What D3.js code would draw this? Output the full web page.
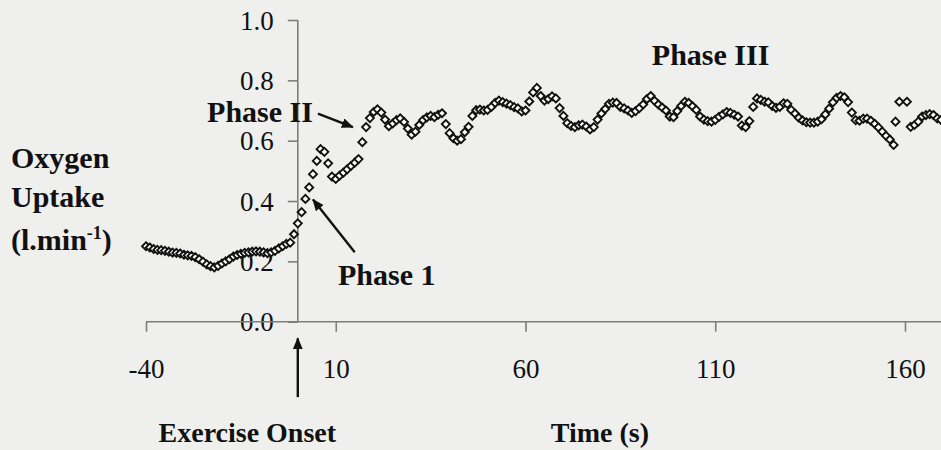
<!DOCTYPE html>
<html>
<head>
<meta charset="utf-8">
<script src="https://cdn.jsdelivr.net/npm/d3@7"></script>
<style>
  html, body { margin: 0; padding: 0; background: #efefee; }
  svg { display: block; }
  text { font-family: "Liberation Serif", "Times New Roman", serif; fill: #111; }
</style>
</head>
<body>
<svg id="chart" width="941" height="450"></svg>
<script>
// Breath-averaged oxygen uptake around exercise onset (time in s, VO2 in l/min)
const timeS = [
  -40,-39,-38,-37,-36,-35,-34,-33,-32,-31,
  -30,-29,-28,-27,-26,-25,-24,-23,-22,-21,
  -20,-19,-18,-17,-16,-15,-14,-13,-12,-11,
  -10,-9,-8,-7,-6,-5,-4,-3,-2,-1,
  0,1,2,3,4,5,6,7,8,9,
  10,11,12,13,14,15,16,17,18,19,
  20,21,22,23,24,25,26,27,28,29,
  30,31,32,33,34,35,36,37,38,39,
  40,41,42,43,44,45,46,47,48,49,
  50,51,52,53,54,55,56,57,58,59,
  60,61,62,63,64,65,66,67,68,69,
  70,71,72,73,74,75,76,77,78,79,
  80,81,82,83,84,85,86,87,88,89,
  90,91,92,93,94,95,96,97,98,99,
  100,101,102,103,104,105,106,107,108,109,
  110,111,112,113,114,115,116,117,118,119,
  120,121,122,123,124,125,126,127,128,129,
  130,131,132,133,134,135,136,137,138,139,
  140,141,142,143,144,145,146,147,148,149,
  150,151,152,153,154,155,156,157,157.5,158.5,
  160.5,161.5,162.5,163.5,164.5,165.5,166.5,167.5,168.5,169.5
];
const vo2 = [
  0.250,0.246,0.241,0.238,0.237,0.235,0.232,0.229,0.228,0.226,
  0.222,0.220,0.218,0.214,0.207,0.199,0.190,0.184,0.180,0.185,
  0.193,0.200,0.207,0.216,0.221,0.225,0.228,0.230,0.232,0.233,
  0.232,0.230,0.227,0.230,0.235,0.243,0.250,0.258,0.262,0.290,
  0.326,0.363,0.407,0.445,0.489,0.533,0.572,0.563,0.525,0.481,
  0.473,0.484,0.494,0.505,0.516,0.527,0.539,0.595,0.645,0.675,
  0.695,0.704,0.693,0.670,0.648,0.657,0.668,0.674,0.662,0.640,
  0.620,0.630,0.652,0.668,0.677,0.682,0.678,0.686,0.691,0.655,
  0.625,0.608,0.600,0.605,0.628,0.646,0.682,0.701,0.703,0.700,
  0.702,0.712,0.725,0.733,0.728,0.723,0.718,0.711,0.707,0.697,
  0.700,0.730,0.760,0.775,0.748,0.733,0.738,0.747,0.740,0.708,
  0.682,0.658,0.649,0.645,0.651,0.653,0.647,0.637,0.645,0.670,
  0.690,0.705,0.722,0.726,0.725,0.712,0.707,0.700,0.692,0.698,
  0.708,0.720,0.738,0.748,0.732,0.720,0.710,0.700,0.680,0.678,
  0.698,0.715,0.729,0.725,0.714,0.702,0.680,0.670,0.665,0.663,
  0.669,0.679,0.687,0.695,0.692,0.686,0.680,0.650,0.645,0.665,
  0.712,0.740,0.735,0.729,0.727,0.715,0.709,0.712,0.724,0.722,
  0.702,0.690,0.676,0.667,0.661,0.660,0.660,0.663,0.671,0.687,
  0.706,0.727,0.742,0.748,0.744,0.728,0.693,0.668,0.666,0.673,
  0.673,0.666,0.656,0.644,0.630,0.616,0.604,0.586,0.663,0.729,
  0.729,0.646,0.652,0.663,0.680,0.685,0.688,0.685,0.674,0.669
];

const xTicks = [-40, 10, 60, 110, 160];
const yTicks = [0, 0.2, 0.4, 0.6, 0.8, 1.0];

// Annotations placed in data units: [time, VO2]
const phaseLabels = [
  { text: "Phase III", at: [93.3, 0.851], anchor: "start" },
  { text: "Phase II",  at: [4.0, 0.662],  anchor: "end" },
  { text: "Phase 1",   at: [10.6, 0.122], anchor: "start" }
];
const phaseArrows = [
  { from: [5.3, 0.690], to: [14.5, 0.645] },
  { from: [15.0, 0.230], to: [4.0, 0.405] },
  { from: [0, -0.250], to: [0, -0.055] }
];

const svg = d3.select("#chart");
const W = 941, H = 450;

const x = d3.scaleLinear().domain([-40, 160]).range([146, 905]);
const y = d3.scaleLinear().domain([0, 1]).range([321.7, 20]);

const axisColor = "#7d7d7d";

svg.append("defs").append("marker")
  .attr("id", "head")
  .attr("viewBox", "0 0 12 10")
  .attr("refX", 11).attr("refY", 5)
  .attr("markerWidth", 12).attr("markerHeight", 10)
  .attr("markerUnits", "userSpaceOnUse")
  .attr("orient", "auto")
  .append("path")
  .attr("d", "M0,0 L12,5 L0,10 Z")
  .attr("fill", "#111");

// Y axis (crosses at time 0)
const yAxis = svg.append("g")
  .attr("transform", `translate(${x(0)},0)`)
  .call(d3.axisLeft(y).tickValues(yTicks).tickFormat(d3.format(".1f")).tickSize(10).tickPadding(14));
yAxis.select(".domain").attr("d", `M0,${y(1)}V${y(0)}`);

// X axis
const xAxis = svg.append("g")
  .attr("transform", `translate(0,${y(0)})`)
  .call(d3.axisBottom(x).tickValues(xTicks).tickFormat(d => d < 0 ? "-" + Math.abs(d) : String(d)).tickSize(10).tickPadding(27));
xAxis.select(".domain").attr("d", `M${x(-40)},0H${W}`);

[yAxis, xAxis].forEach(g => {
  g.selectAll(".domain, .tick line").attr("stroke", axisColor).attr("stroke-width", 1.6);
  g.selectAll(".tick text")
    .attr("fill", "#2a2a2a")
    .style("font-family", '"Liberation Serif", "Times New Roman", serif')
    .style("font-size", "27px");
});
yAxis.selectAll(".tick text").attr("dy", "0.34em");

// Axis titles
const yTitle = svg.append("g")
  .style("font-weight", "bold").style("font-size", "30px");
yTitle.append("text").attr("x", 11).attr("y", 168).text("Oxygen");
yTitle.append("text").attr("x", 11).attr("y", 207).text("Uptake");
const unit = yTitle.append("text").attr("x", 11).attr("y", 250);
unit.append("tspan").text("(l.min");
unit.append("tspan").attr("dy", -11).style("font-size", "18px").text("-1");
unit.append("tspan").attr("dy", 11).text(")");

svg.append("text")
  .attr("x", x(79.6)).attr("y", y(-0.398))
  .attr("text-anchor", "middle")
  .style("font-weight", "bold").style("font-size", "28px")
  .text("Time (s)");

svg.append("text")
  .attr("x", x(-13.3)).attr("y", y(-0.398))
  .attr("text-anchor", "middle")
  .style("font-weight", "bold").style("font-size", "28px")
  .text("Exercise Onset");

// Phase labels and arrows
svg.append("g").selectAll("text")
  .data(phaseLabels).join("text")
  .attr("x", d => x(d.at[0])).attr("y", d => y(d.at[1]))
  .attr("text-anchor", d => d.anchor)
  .style("font-weight", "bold").style("font-size", "30px")
  .text(d => d.text);

svg.append("g").selectAll("line")
  .data(phaseArrows).join("line")
  .attr("x1", d => x(d.from[0])).attr("y1", d => y(d.from[1]))
  .attr("x2", d => x(d.to[0])).attr("y2", d => y(d.to[1]))
  .attr("stroke", "#111").attr("stroke-width", 2.4)
  .attr("marker-end", "url(#head)");

// VO2 points as hollow diamonds
const pts = timeS.map((t, i) => ({ t, v: vo2[i] }));
const r = 4;
svg.append("g").selectAll("path")
  .data(pts).join("path")
  .attr("transform", d => `translate(${x(d.t)},${y(d.v)})`)
  .attr("d", `M0,${-r}L${r},0L0,${r}L${-r},0Z`)
  .attr("fill", "#ffffff")
  .attr("stroke", "#111")
  .attr("stroke-width", 1.9);
</script>
</body>
</html>
